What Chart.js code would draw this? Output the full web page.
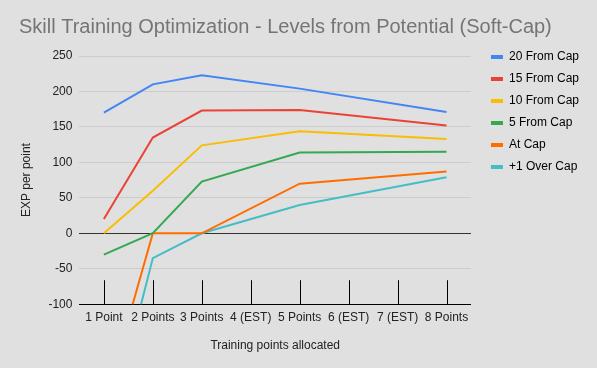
<!DOCTYPE html>
<html>
<head>
<meta charset="utf-8">
<script src="https://cdn.jsdelivr.net/npm/chart.js@4"></script>
<style>
  html, body { margin: 0; padding: 0; background: #e0e0e0; }
  #wrap { width: 597px; height: 368px; }
</style>
</head>
<body>
<div id="wrap"><canvas id="c" width="597" height="368"></canvas></div>
<script>
const categories = ["1 Point", "2 Points", "3 Points", "4 (EST)", "5 Points", "6 (EST)", "7 (EST)", "8 Points"];
const seriesNames = ["20 From Cap", "15 From Cap", "10 From Cap", "5 From Cap", "At Cap", "+1 Over Cap"];
const seriesColors = ["#4285F4", "#EA4335", "#FBBC04", "#34A853", "#FF6D01", "#46BDC6"];
const from20 = [170, 210, 223, null, 204, null, null, 171];
const from15 = [20, 135, 173, null, 174, null, null, 152];
const from10 = [0, 60, 124, null, 144, null, null, 133];
const from5 = [-30, 0, 73, null, 114, null, null, 115];
const atCap = [-243, 0, 0, null, 70, null, null, 87];
const overCap1 = [-306, -35, 0, null, 40, null, null, 79];
const seriesValues = [from20, from15, from10, from5, atCap, overCap1];
const yTicks = [-100, -50, 0, 50, 100, 150, 200, 250];

const FONT = 'Liberation Sans, Arial, sans-serif';

const bgPlugin = {
  id: 'bg',
  beforeDraw(chart) {
    const ctx = chart.ctx;
    ctx.save();
    ctx.fillStyle = '#e0e0e0';
    ctx.fillRect(0, 0, chart.width, chart.height);
    ctx.restore();
  }
};

const legendShift = {
  id: 'legendShift',
  afterLayout(chart) {
    const l = chart.legend;
    if (!l) return;
    const w = l.width, h = l.height;
    l.left = chart.chartArea.right + 10;
    l.right = l.left + w;
    l.top = chart.chartArea.top - 15;
    l.bottom = l.top + h;
  }
};

const tickMarks = {
  id: 'tickMarks',
  beforeDatasetsDraw(chart) {
    const x = chart.scales.x;
    const area = chart.chartArea;
    const ctx = chart.ctx;
    ctx.save();
    ctx.strokeStyle = '#000';
    ctx.lineWidth = 1;
    for (let i = 0; i < categories.length; i++) {
      const px = Math.round(x.getPixelForTick(i)) + 0.5;
      ctx.beginPath();
      ctx.moveTo(px, area.bottom);
      ctx.lineTo(px, area.bottom - 24);
      ctx.stroke();
    }
    ctx.restore();
  }
};

new Chart(document.getElementById('c'), {
  type: 'line',
  data: {
    labels: categories,
    datasets: seriesNames.map((n, i) => ({
      label: n,
      data: seriesValues[i],
      borderColor: seriesColors[i],
      backgroundColor: seriesColors[i],
      borderWidth: 2,
      pointRadius: 0,
      spanGaps: true,
      tension: 0
    }))
  },
  options: {
    responsive: false,
    animation: false,
    layout: { padding: { left: 19, right: 18, top: 0, bottom: 15 } },
    plugins: {
      title: {
        display: true,
        text: 'Skill Training Optimization - Levels from Potential (Soft-Cap)',
        align: 'start',
        color: '#757575',
        font: { family: FONT, size: 20, weight: 'normal' },
        padding: { top: 15, bottom: 17 }
      },
      legend: {
        position: 'right',
        align: 'start',
        fullSize: false,
        labels: {
          color: '#222',
          font: { family: FONT, size: 12 },
          boxWidth: 12,
          boxHeight: 4,
          padding: 10,
          generateLabels(chart) {
            return chart.data.datasets.map((d, i) => ({
              text: d.label,
              fillStyle: d.borderColor,
              strokeStyle: d.borderColor,
              lineWidth: 0,
              datasetIndex: i,
              hidden: false
            }));
          }
        }
      },
      tooltip: { enabled: false }
    },
    scales: {
      x: {
        offset: true,
        grid: { display: false, drawTicks: false, offset: true },
        border: { display: true, color: '#000', width: 1 },
        ticks: {
          color: '#222',
          font: { family: FONT, size: 12 },
          maxRotation: 0,
          autoSkip: false,
          padding: 6
        },
        title: {
          display: true,
          text: 'Training points allocated',
          color: '#222',
          font: { family: FONT, size: 12 },
          padding: { top: 8, bottom: 0 }
        }
      },
      y: {
        min: -100,
        max: 250,
        afterBuildTicks(scale) { scale.ticks = yTicks.map(v => ({ value: v })); },
        grid: {
          drawTicks: false,
          color: (c) => (c.tick && c.tick.value === 0) ? '#333' : (c.tick && c.tick.value === -100 ? 'rgba(0,0,0,0)' : '#cccccc'),
          lineWidth: 1
        },
        border: { display: false },
        ticks: {
          color: '#222',
          font: { family: FONT, size: 12 },
          padding: 7
        },
        title: {
          display: true,
          text: 'EXP per point',
          color: '#222',
          font: { family: FONT, size: 12 },
          padding: { top: 0, bottom: 8 }
        }
      }
    }
  },
  plugins: [bgPlugin, legendShift, tickMarks]
});
</script>
</body>
</html>
